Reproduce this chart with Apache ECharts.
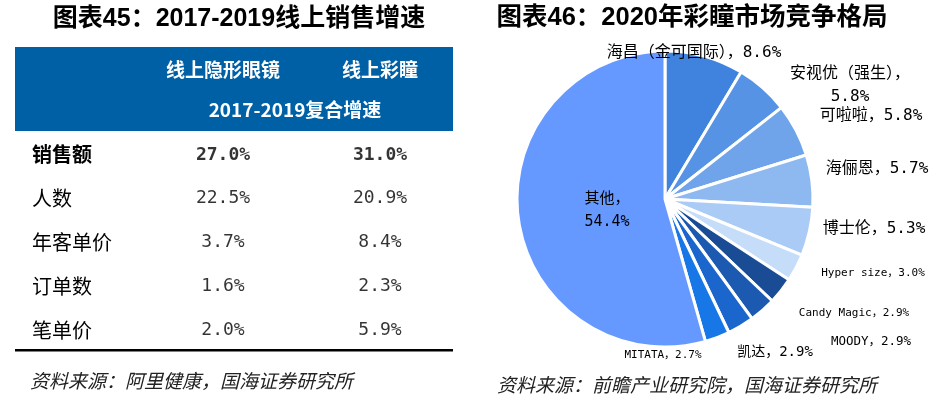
<!DOCTYPE html>
<html>
<head>
<meta charset="utf-8">
<script src="https://cdn.jsdelivr.net/npm/echarts@6/dist/echarts.min.js"></script>
<style>
html,body{margin:0;padding:0;background:#fff;}
#chart{width:939px;height:398px;}
</style>
</head>
<body>
<div id="chart"></div>
<script>
// ---------- data ----------
const tableRows = ['销售额', '人数', '年客单价', '订单数', '笔单价'];
const tableCols = ['线上隐形眼镜', '线上彩瞳'];
const contactLensCagr = [27.0, 22.5, 3.7, 1.6, 2.0];
const colorLensCagr = [31.0, 20.9, 8.4, 2.3, 5.9];

const brands = ['海昌（金可国际）', '安视优（强生）', '可啦啦', '海俪恩', '博士伦', 'Hyper size', 'Candy Magic', 'MOODY', '凯达', 'MITATA', '其他'];
const shares = [8.6, 5.8, 5.8, 5.7, 5.3, 3.0, 2.9, 2.9, 2.9, 2.7, 54.4];

// ---------- styles / layout ----------
const sliceColors = ['#3F83DF', '#5693E4', '#6FA4EA', '#8DB8F0', '#AACBF5', '#C6DDF9', '#1A4C96', '#1B5AB0', '#1A66CC', '#1877E6', '#6699FF'];
const labelSizes = [16, 16, 16, 16, 16, 11, 11, 12.5, 14, 11, 15];
const labelPos = [[694, 53], [850, 85], [871, 116], [877, 169], [874, 229], [873, 273], [854, 313], [871, 342], [775, 352], [663, 355], [607, 211]];
const CJK = '"Noto Sans CJK SC"';
const MONO = '"DejaVu Sans Mono", "Noto Sans CJK SC"';

const chart = echarts.init(document.getElementById('chart'), null, {renderer: 'canvas'});

const colData = [contactLensCagr, colorLensCagr];
const tableSeries = tableCols.map((c, ci) => ({
  type: 'scatter',
  symbolSize: 1,
  itemStyle: {color: 'rgba(0,0,0,0)'},
  silent: true,
  z: 5,
  data: tableRows.map((r, ri) => ({
    value: [ci, ri],
    label: {fontWeight: ri === 0 ? 'bold' : 'normal'}
  })),
  label: {
    show: true,
    position: 'inside',
    color: '#000',
    fontFamily: MONO,
    fontSize: 18,
    formatter: p => colData[ci][p.dataIndex].toFixed(1) + '%'
  }
}));

const option = {
  animation: false,
  backgroundColor: '#fff',
  grid: {left: 144.5, top: 133, width: 314, height: 219, containLabel: false},
  xAxis: {
    type: 'category',
    position: 'top',
    data: tableCols,
    axisLine: {show: false}, axisTick: {show: false}, splitLine: {show: false},
    axisLabel: {interval: 0, margin: 63, color: '#fff', fontWeight: 'bold', fontSize: 19, fontFamily: CJK, verticalAlign: 'middle'}
  },
  yAxis: {
    type: 'category',
    inverse: true,
    data: tableRows.map((r, i) => i === 0 ? {value: r, textStyle: {fontWeight: 'bold', align: 'left'}} : r),
    axisLine: {show: false}, axisTick: {show: false}, splitLine: {show: false},
    axisLabel: {interval: 0, align: 'left', margin: 112.5, color: '#000', fontSize: 20, fontFamily: CJK}
  },
  graphic: [
    {type: 'rect', z: -10, shape: {x: 15, y: 47, width: 438, height: 84}, style: {fill: '#0060A5'}},
    {type: 'rect', z: -10, shape: {x: 15, y: 349, width: 438, height: 2.5}, style: {fill: '#000'}},
    {type: 'text', z: 10, style: {text: '2017-2019复合增速', x: 295, y: 110, align: 'center', verticalAlign: 'middle', fill: '#fff', font: 'bold 19px ' + CJK}},
    {type: 'text', z: 10, style: {text: '图表45：2017-2019线上销售增速', x: 239, y: 19, align: 'center', verticalAlign: 'middle', fill: '#000', font: 'bold 25px "Liberation Sans", ' + CJK}},
    {type: 'text', z: 10, style: {text: '图表46：2020年彩瞳市场竞争格局', x: 692, y: 18, align: 'center', verticalAlign: 'middle', fill: '#000', font: 'bold 25.5px "Liberation Sans", ' + CJK}},
    {type: 'text', z: 10, style: {text: '资料来源：阿里健康，国海证券研究所', x: 30, y: 381, align: 'left', verticalAlign: 'middle', fill: '#222', font: 'italic 19px ' + CJK}},
    {type: 'text', z: 10, style: {text: '资料来源：前瞻产业研究院，国海证券研究所', x: 497, y: 385, align: 'left', verticalAlign: 'middle', fill: '#222', font: 'italic 19px ' + CJK}}
  ],
  series: tableSeries.concat([{
    type: 'pie',
    center: [665, 199],
    radius: 148,
    startAngle: 90,
    clockwise: true,
    silent: true,
    avoidLabelOverlap: false,
    itemStyle: {borderColor: '#fff', borderWidth: 3},
    labelLine: {show: false},
    data: brands.map((b, i) => ({
      name: b,
      value: shares[i],
      itemStyle: {color: sliceColors[i]},
      label: {fontSize: labelSizes[i]}
    })),
    label: {
      show: true,
      color: '#000',
      fontFamily: MONO,
      lineHeight: 23,
      overflow: 'none',
      width: 300,
      formatter: p => {
        const v = shares[p.dataIndex].toFixed(1) + '%';
        if (p.dataIndex === 1 || p.dataIndex === 10) return p.name + '，\n' + v;
        return p.name + '，' + v;
      }
    },
    labelLayout: p => ({x: labelPos[p.dataIndex][0], y: labelPos[p.dataIndex][1], align: 'center', verticalAlign: 'middle'})
  }])
};
chart.setOption(option);
</script>
</body>
</html>
